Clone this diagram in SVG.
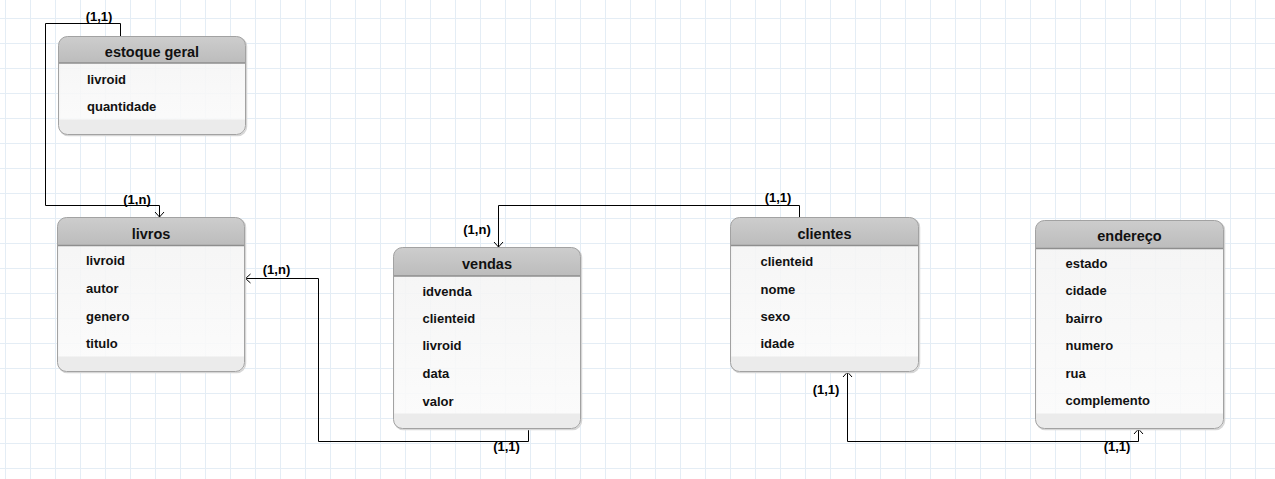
<svg xmlns="http://www.w3.org/2000/svg" width="1275" height="479" viewBox="0 0 1275 479">
<defs>
  <pattern id="grid" patternUnits="userSpaceOnUse" x="5" y="18" width="25" height="25">
    <path d="M0.5,0 V25 M0,0.5 H25" fill="none" stroke="#e4edf5" stroke-width="1"/>
  </pattern>
  <linearGradient id="hdr" x1="0" y1="0" x2="0" y2="1">
    <stop offset="0" stop-color="#cdcdcd"/>
    <stop offset="1" stop-color="#bcbcbc"/>
  </linearGradient>
  <linearGradient id="bdy" x1="0" y1="0" x2="0" y2="1">
    <stop offset="0" stop-color="#f3f3f3"/>
    <stop offset="1" stop-color="#fbfbfb"/>
  </linearGradient>
  <marker id="arr" markerUnits="userSpaceOnUse" markerWidth="12" markerHeight="12" viewBox="-6 -6 12 12" refX="0" refY="0" orient="auto-start-reverse">
    <path d="M-5,-4.5 L0,0 L-5,4.5" fill="none" stroke="#000" stroke-width="1"/>
  </marker>
  <style>
    .body{fill:url(#bdy);fill-opacity:0.88}
    .hdr{fill:url(#hdr)}
    .ftr{fill:#e9e9e9;fill-opacity:0.9}
    .sep{stroke:#8e8e8e;stroke-width:1.5}
    .brd{fill:none;stroke:#a2a2a2;stroke-width:1}
    .shd{fill:none;stroke:#d6d6d6;stroke-width:1.5}
    .title{font-family:"Liberation Sans",Arial,sans-serif;font-weight:bold;font-size:14.5px;fill:#111;text-anchor:middle}
    .row{font-family:"Liberation Sans",Arial,sans-serif;font-weight:bold;font-size:13px;fill:#111}
    .lbl{font-family:"Liberation Sans",Arial,sans-serif;font-weight:bold;font-size:13px;fill:#000;text-anchor:middle}
    .conn{fill:none;stroke:#000;stroke-width:1}
  </style>
</defs>
<rect width="1275" height="479" fill="#ffffff"/>
<rect width="1275" height="479" fill="url(#grid)"/>

<g id="connectors">
  <path class="conn" d="M120.5,36.5 V23.5 H45.5 V205.5 H159.5 V217" marker-end="url(#arr)"/>
  <path class="conn" d="M528.5,428.5 V441.5 H318.5 V278.5 H245.5" marker-end="url(#arr)"/>
  <path class="conn" d="M799.5,217.5 V205.5 H498.5 V247" marker-end="url(#arr)"/>
  <path class="conn" d="M847.5,372 V441.5 H1138.5 V429" marker-start="url(#arr)" marker-end="url(#arr)"/>
  <text class="lbl" x="99" y="21">(1,1)</text>
  <text class="lbl" x="137" y="204">(1,n)</text>
  <text class="lbl" x="276.5" y="274">(1,n)</text>
  <text class="lbl" x="506.5" y="451">(1,1)</text>
  <text class="lbl" x="778" y="202">(1,1)</text>
  <text class="lbl" x="477" y="234">(1,n)</text>
  <text class="lbl" x="826" y="394">(1,1)</text>
  <text class="lbl" x="1117" y="451">(1,1)</text>
</g>

<g id="estoque-geral">
  <rect class="shd" x="59.5" y="37.5" width="187" height="98" rx="9"/>
  <rect class="body" x="58.5" y="36.5" width="187" height="98" rx="9"/>
  <path class="hdr" d="M58.5,63 V45.5 A9,9 0 0 1 67.5,36.5 H236.5 A9,9 0 0 1 245.5,45.5 V63 Z"/>
  <path class="ftr" d="M58.5,119.5 H245.5 V125.5 A9,9 0 0 1 236.5,134.5 H67.5 A9,9 0 0 1 58.5,125.5 Z"/>
  <line class="sep" x1="58.5" y1="63" x2="245.5" y2="63"/>
  <rect class="brd" x="58.5" y="36.5" width="187" height="98" rx="9"/>
  <text class="title" x="152" y="56.5">estoque geral</text>
  <text class="row" x="87" y="84">livroid</text>
  <text class="row" x="87" y="111">quantidade</text>
</g>

<g id="livros">
  <rect class="shd" x="58.5" y="218.5" width="187" height="154" rx="9"/>
  <rect class="body" x="57.5" y="217.5" width="187" height="154" rx="9"/>
  <path class="hdr" d="M57.5,245.5 V226.5 A9,9 0 0 1 66.5,217.5 H235.5 A9,9 0 0 1 244.5,226.5 V245.5 Z"/>
  <path class="ftr" d="M57.5,356.5 H244.5 V362.5 A9,9 0 0 1 235.5,371.5 H66.5 A9,9 0 0 1 57.5,362.5 Z"/>
  <line class="sep" x1="57.5" y1="245.5" x2="244.5" y2="245.5"/>
  <rect class="brd" x="57.5" y="217.5" width="187" height="154" rx="9"/>
  <text class="title" x="151" y="238.5">livros</text>
  <text class="row" x="86" y="265">livroid</text>
  <text class="row" x="86" y="293">autor</text>
  <text class="row" x="86" y="320.5">genero</text>
  <text class="row" x="86" y="348">titulo</text>
</g>

<g id="vendas">
  <rect class="shd" x="394.5" y="248.5" width="187" height="181" rx="9"/>
  <rect class="body" x="393.5" y="247.5" width="187" height="181" rx="9"/>
  <path class="hdr" d="M393.5,276 V256.5 A9,9 0 0 1 402.5,247.5 H571.5 A9,9 0 0 1 580.5,256.5 V276 Z"/>
  <path class="ftr" d="M393.5,413.5 H580.5 V419.5 A9,9 0 0 1 571.5,428.5 H402.5 A9,9 0 0 1 393.5,419.5 Z"/>
  <line class="sep" x1="393.5" y1="276" x2="580.5" y2="276"/>
  <rect class="brd" x="393.5" y="247.5" width="187" height="181" rx="9"/>
  <text class="title" x="487" y="268.5">vendas</text>
  <text class="row" x="422.5" y="295.5">idvenda</text>
  <text class="row" x="422.5" y="323">clienteid</text>
  <text class="row" x="422.5" y="350">livroid</text>
  <text class="row" x="422.5" y="378">data</text>
  <text class="row" x="422.5" y="405.5">valor</text>
</g>

<g id="clientes">
  <rect class="shd" x="731.5" y="218.5" width="188" height="154" rx="9"/>
  <rect class="body" x="730.5" y="217.5" width="188" height="154" rx="9"/>
  <path class="hdr" d="M730.5,245.5 V226.5 A9,9 0 0 1 739.5,217.5 H909.5 A9,9 0 0 1 918.5,226.5 V245.5 Z"/>
  <path class="ftr" d="M730.5,356.5 H918.5 V362.5 A9,9 0 0 1 909.5,371.5 H739.5 A9,9 0 0 1 730.5,362.5 Z"/>
  <line class="sep" x1="730.5" y1="245.5" x2="918.5" y2="245.5"/>
  <rect class="brd" x="730.5" y="217.5" width="188" height="154" rx="9"/>
  <text class="title" x="824.5" y="238.5">clientes</text>
  <text class="row" x="760.5" y="265.5">clienteid</text>
  <text class="row" x="760.5" y="293.5">nome</text>
  <text class="row" x="760.5" y="320.5">sexo</text>
  <text class="row" x="760.5" y="348">idade</text>
</g>

<g id="endereco">
  <rect class="shd" x="1036.5" y="221.5" width="188" height="208" rx="9"/>
  <rect class="body" x="1035.5" y="220.5" width="188" height="208" rx="9"/>
  <path class="hdr" d="M1035.5,248.5 V229.5 A9,9 0 0 1 1044.5,220.5 H1214.5 A9,9 0 0 1 1223.5,229.5 V248.5 Z"/>
  <path class="ftr" d="M1035.5,413.5 H1223.5 V419.5 A9,9 0 0 1 1214.5,428.5 H1044.5 A9,9 0 0 1 1035.5,419.5 Z"/>
  <line class="sep" x1="1035.5" y1="248.5" x2="1223.5" y2="248.5"/>
  <rect class="brd" x="1035.5" y="220.5" width="188" height="208" rx="9"/>
  <text class="title" x="1129.5" y="240.5">endereço</text>
  <text class="row" x="1065.5" y="268">estado</text>
  <text class="row" x="1065.5" y="295">cidade</text>
  <text class="row" x="1065.5" y="322.5">bairro</text>
  <text class="row" x="1065.5" y="350">numero</text>
  <text class="row" x="1065.5" y="377.5">rua</text>
  <text class="row" x="1065.5" y="405">complemento</text>
</g>
</svg>
